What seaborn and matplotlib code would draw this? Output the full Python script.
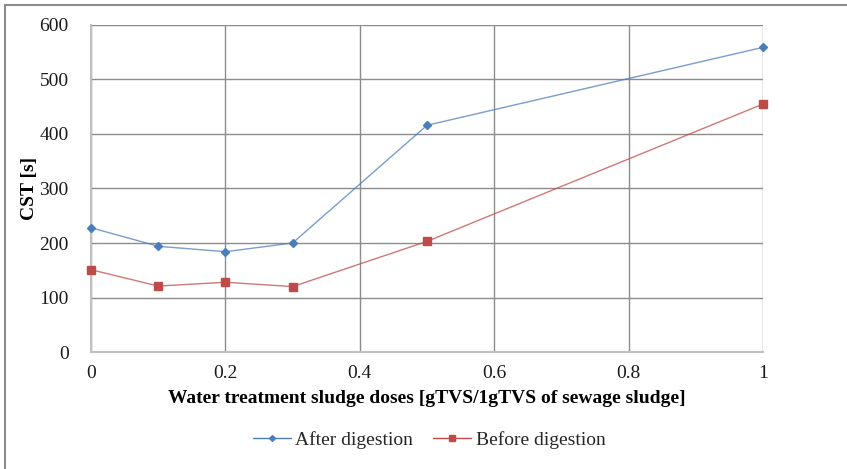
import matplotlib
matplotlib.use("Agg")
import matplotlib.pyplot as plt
import seaborn as sns
import pandas as pd
from matplotlib.lines import Line2D

doses = [0, 0.1, 0.2, 0.3, 0.5, 1.0]
after_digestion = [228, 194, 184, 200, 416, 559]
before_digestion = [151, 121, 128, 120, 203, 455]
series_names = ["After digestion", "Before digestion"]
x_ticks = [0, 0.2, 0.4, 0.6, 0.8, 1]
x_tick_labels = ["0", "0.2", "0.4", "0.6", "0.8", "1"]
y_ticks = [0, 100, 200, 300, 400, 500, 600]

df = pd.DataFrame({
    "dose": doses * 2,
    "cst": after_digestion + before_digestion,
    "series": [series_names[0]] * len(doses) + [series_names[1]] * len(doses),
})

sns.set_theme(style="white")
plt.rcParams["font.family"] = ["Liberation Serif", "DejaVu Serif"]

colors = {"After digestion": "#4a7ebb", "Before digestion": "#be4b48"}
markers = {"After digestion": "D", "Before digestion": "s"}
msizes = {"After digestion": 4.0, "Before digestion": 5.2}

fig = plt.figure(figsize=(8.47, 4.69), dpi=100)
ax = fig.add_axes([91/847, 1-352/469, (763-91)/847, (352-25)/469])

grid_c = "#8c8c8c"
for x in x_ticks:
    ax.axvline(x, color=grid_c, lw=1.0, zorder=0)
for y in y_ticks:
    ax.axhline(y, color=grid_c, lw=1.0, zorder=0)

for name in series_names:
    sub = df[df["series"] == name]
    sns.lineplot(data=sub, x="dose", y="cst", ax=ax, color=colors[name],
                 lw=1.0, alpha=0.75, marker=None, legend=False, zorder=3)
    ax.plot(sub["dose"], sub["cst"], ls="none", marker=markers[name],
            ms=msizes[name], color=colors[name], mec=colors[name], zorder=4,
            clip_on=False)

ax.set_xlim(0, 1)
ax.set_ylim(0, 600)
ax.set_xticks(x_ticks)
ax.set_xticklabels(x_tick_labels)
ax.set_yticks(y_ticks)
ax.tick_params(axis="both", which="both", length=6, width=1.0, color=grid_c,
               labelsize=14, labelcolor="#1a1a1a", direction="out")
ax.tick_params(axis="y", pad=10)
ax.tick_params(axis="x", pad=3)
for s in ["top", "right"]:
    ax.spines[s].set_visible(False)
for s in ["left", "bottom"]:
    ax.spines[s].set_color("#c0c0c0")
    ax.spines[s].set_linewidth(1.5)
    ax.spines[s].set_zorder(1)

ax.set_xlabel("Water treatment sludge doses [gTVS/1gTVS of sewage sludge]",
              fontsize=14, fontweight="bold", labelpad=6, color="black")
ax.set_ylabel("CST [s]", fontsize=14, fontweight="bold", color="black")
ax.yaxis.set_label_coords(-(91-38)/672, 0.5)

handles = [Line2D([0], [0], color=colors[n], lw=1.0, marker=markers[n],
                  ms=msizes[n] - 1.0, mec=colors[n]) for n in series_names]
fig.legend(handles, series_names, loc="center", bbox_to_anchor=(429/847, 1-440/469),
           ncol=2, frameon=False, fontsize=14, handlelength=1.95, columnspacing=1.0,
           handletextpad=0.25)

# outer frame (left and top edges visible in reference)
fig.add_artist(Line2D([5/847, 5/847], [0, 1-5/469], transform=fig.transFigure,
                      color="#8c8c8c", lw=1.5))
fig.add_artist(Line2D([5/847, 1], [1-5/469, 1-5/469], transform=fig.transFigure,
                      color="#8c8c8c", lw=1.5))

fig.savefig("out.png", dpi=100)
